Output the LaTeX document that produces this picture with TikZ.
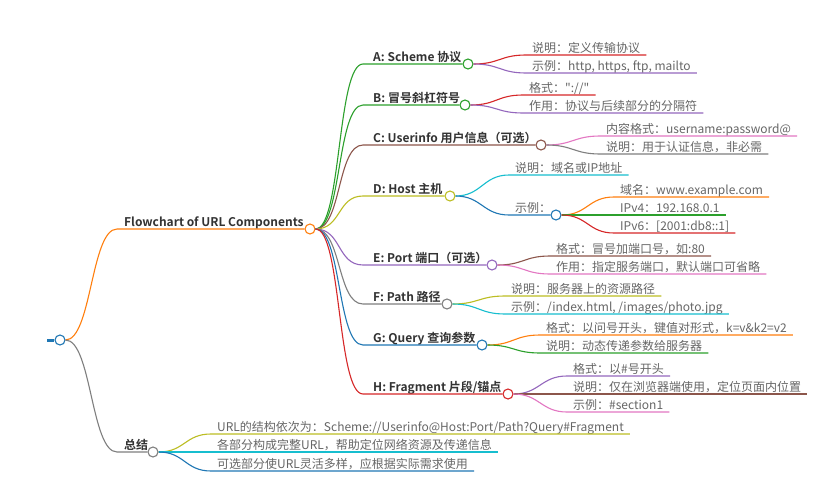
\documentclass[tikz,border=0pt]{standalone}
\usepackage{fontspec}
\setmainfont{Noto Sans CJK SC}[BoldFont={Noto Sans CJK SC Bold},Ligatures=TeXOff]
\usepackage{tikz}

\definecolor{corange}{HTML}{FF7F0E}
\definecolor{cgreen}{HTML}{2CA02C}
\definecolor{cred}{HTML}{D62728}
\definecolor{cpurple}{HTML}{9467BD}
\definecolor{cbrown}{HTML}{8C564B}
\definecolor{cpink}{HTML}{E377C2}
\definecolor{cgray}{HTML}{7F7F7F}
\definecolor{colive}{HTML}{BCBD22}
\definecolor{ccyan}{HTML}{17BECF}
\definecolor{cblue}{HTML}{1F77B4}
\definecolor{textdark}{HTML}{333333}
\definecolor{textgray}{HTML}{666666}

\begin{document}
\begin{tikzpicture}[x=1pt,y=-1pt,
  link/.style={line width=1.1pt},
  swoop/.style={out=0,in=180,distance=26pt},
  dot/.style={circle,draw=#1,fill=white,line width=1.1pt,minimum size=10pt,inner sep=0pt},
  branch/.style={anchor=south west,inner xsep=10pt,inner ysep=2pt,text depth=0pt,
    font=\bfseries\fontsize{12}{14}\selectfont,text=textdark},
  leaf/.style={anchor=south west,inner xsep=6pt,inner ysep=2pt,text depth=0pt,
    font=\fontsize{12}{14}\selectfont,text=textgray}]
\fill[white] (0,0) rectangle (837,495);
\useasboundingbox (0,0) rectangle (837,495);

% root
\node[dot=cblue] (root) at (60,340) {};
\coordinate (stub) at (47,340);
\draw[cblue,line width=3pt] (stub) -- (root.west);

% main branch
\node[branch,inner xsep=7pt] (url) at (117,229) {Flowchart of URL Components};
\node[dot=corange] (urldot) at (310,229) {};
\draw[link,corange] (root.east) to[swoop] (url.south west) -- (urldot.west);

% summary branch
\node[branch,inner xsep=7pt] (sum) at (117,452) {总结};
\node[dot=cgray] (sumdot) at (153,452) {};
\draw[link,cgray] (root.east) to[swoop] (sum.south west) -- (sumdot.west);

\node[leaf] (sum1) at (211,434) {URL的结构依次为：Scheme://Userinfo@Host:Port/Path?Query\#Fragment};
\node[leaf] (sum2) at (211,452) {各部分构成完整URL，帮助定位网络资源及传递信息};
\node[leaf] (sum3) at (211,471) {可选部分使URL灵活多样，应根据实际需求使用};
\draw[link,colive] (sumdot.east) to[swoop] (sum1.south west) -- (sum1.south east);
\draw[link,ccyan] (sumdot.east) to[swoop] (sum2.south west) -- (sum2.south east);
\draw[link,cblue] (sumdot.east) to[swoop] (sum3.south west) -- (sum3.south east);

% A
\node[branch] (A) at (363,64) {A: Scheme 协议};
\node[dot=cgreen] (Adot) at (468,64) {};
\draw[link,cgreen] (urldot.east) to[swoop] (A.south west) -- (Adot.west);
\node[leaf] (A1) at (526,55) {说明：定义传输协议};
\node[leaf] (A2) at (526,73) {示例：http, https, ftp, mailto};
\draw[link,cred] (Adot.east) to[swoop] (A1.south west) -- (A1.south east);
\draw[link,cpurple] (Adot.east) to[swoop] (A2.south west) -- (A2.south east);

% B
\node[branch] (B) at (363,105) {B: 冒号斜杠符号};
\node[dot=cgreen] (Bdot) at (465,105) {};
\draw[link,cgreen] (urldot.east) to[swoop] (B.south west) -- (Bdot.west);
\node[leaf] (B1) at (523,95) {格式："://"};
\node[leaf] (B2) at (523,113) {作用：协议与后续部分的分隔符};
\draw[link,cred] (Bdot.east) to[swoop] (B1.south west) -- (B1.south east);
\draw[link,cpurple] (Bdot.east) to[swoop] (B2.south west) -- (B2.south east);

% C
\node[branch] (C) at (363,145) {C: Userinfo 用户信息（可选）};
\node[dot=cbrown] (Cdot) at (541,145) {};
\draw[link,cbrown] (urldot.east) to[swoop] (C.south west) -- (Cdot.west);
\node[leaf] (C1) at (600,136) {内容格式：username:password@};
\node[leaf] (C2) at (600,154) {说明：用于认证信息，非必需};
\draw[link,cpink] (Cdot.east) to[swoop] (C1.south west) -- (C1.south east);
\draw[link,cgray] (Cdot.east) to[swoop] (C2.south west) -- (C2.south east);

% D
\node[branch] (D) at (363,196) {D: Host 主机};
\node[dot=colive] (Ddot) at (450,196) {};
\draw[link,colive] (urldot.east) to[swoop] (D.south west) -- (Ddot.west);
\node[leaf] (D1) at (509,175) {说明：域名或IP地址};
\node[leaf] (D2) at (509,215) {示例：};
\node[dot=cblue] (D2dot) at (556,215) {};
\draw[link,ccyan] (Ddot.east) to[swoop] (D1.south west) -- (D1.south east);
\draw[link,cblue] (Ddot.east) to[swoop] (D2.south west) -- (D2dot.west);
\node[leaf] (D21) at (614,197) {域名：www.example.com};
\node[leaf] (D22) at (614,215) {IPv4：192.168.0.1};
\node[leaf] (D23) at (614,233) {IPv6：[2001:db8::1]};
\draw[link,corange] (D2dot.east) to[swoop] (D21.south west) -- (D21.south east);
\draw[link,cgreen] (D2dot.east) to[swoop] (D22.south west) -- (D22.south east);
\draw[link,cred] (D2dot.east) to[swoop] (D23.south west) -- (D23.south east);

% E
\node[branch] (E) at (363,265) {E: Port 端口（可选）};
\node[dot=cpurple] (Edot) at (492,265) {};
\draw[link,cpurple] (urldot.east) to[swoop] (E.south west) -- (Edot.west);
\node[leaf] (E1) at (550,256) {格式：冒号加端口号，如:80};
\node[leaf] (E2) at (550,274) {作用：指定服务端口，默认端口可省略};
\draw[link,cbrown] (Edot.east) to[swoop] (E1.south west) -- (E1.south east);
\draw[link,cpink] (Edot.east) to[swoop] (E2.south west) -- (E2.south east);

% F
\node[branch] (F) at (363,304) {F: Path 路径};
\node[dot=cgray] (Fdot) at (447,304) {};
\draw[link,cgray] (urldot.east) to[swoop] (F.south west) -- (Fdot.west);
\node[leaf] (F1) at (505,296) {说明：服务器上的资源路径};
\node[leaf] (F2) at (505,314) {示例：/index.html, /images/photo.jpg};
\draw[link,colive] (Fdot.east) to[swoop] (F1.south west) -- (F1.south east);
\draw[link,ccyan] (Fdot.east) to[swoop] (F2.south west) -- (F2.south east);

% G
\node[branch] (G) at (363,345) {G: Query 查询参数};
\node[dot=cblue] (Gdot) at (482,345) {};
\draw[link,cblue] (urldot.east) to[swoop] (G.south west) -- (Gdot.west);
\node[leaf] (G1) at (540,335) {格式：以问号开头，键值对形式，k=v\&k2=v2};
\node[leaf] (G2) at (540,353) {说明：动态传递参数给服务器};
\draw[link,corange] (Gdot.east) to[swoop] (G1.south west) -- (G1.south east);
\draw[link,cgreen] (Gdot.east) to[swoop] (G2.south west) -- (G2.south east);

% H
\node[branch] (H) at (363,394) {H: Fragment 片段/锚点};
\node[dot=cred] (Hdot) at (508,394) {};
\draw[link,cred] (urldot.east) to[swoop] (H.south west) -- (Hdot.west);
\node[leaf] (H1) at (567,376) {格式：以\#号开头};
\node[leaf] (H2) at (567,394) {说明：仅在浏览器端使用，定位页面内位置};
\node[leaf] (H3) at (567,412) {示例：\#section1};
\draw[link,cpurple] (Hdot.east) to[swoop] (H1.south west) -- (H1.south east);
\draw[link,cbrown] (Hdot.east) to[swoop] (H2.south west) -- (H2.south east);
\draw[link,cpink] (Hdot.east) to[swoop] (H3.south west) -- (H3.south east);
\end{tikzpicture}
\end{document}
